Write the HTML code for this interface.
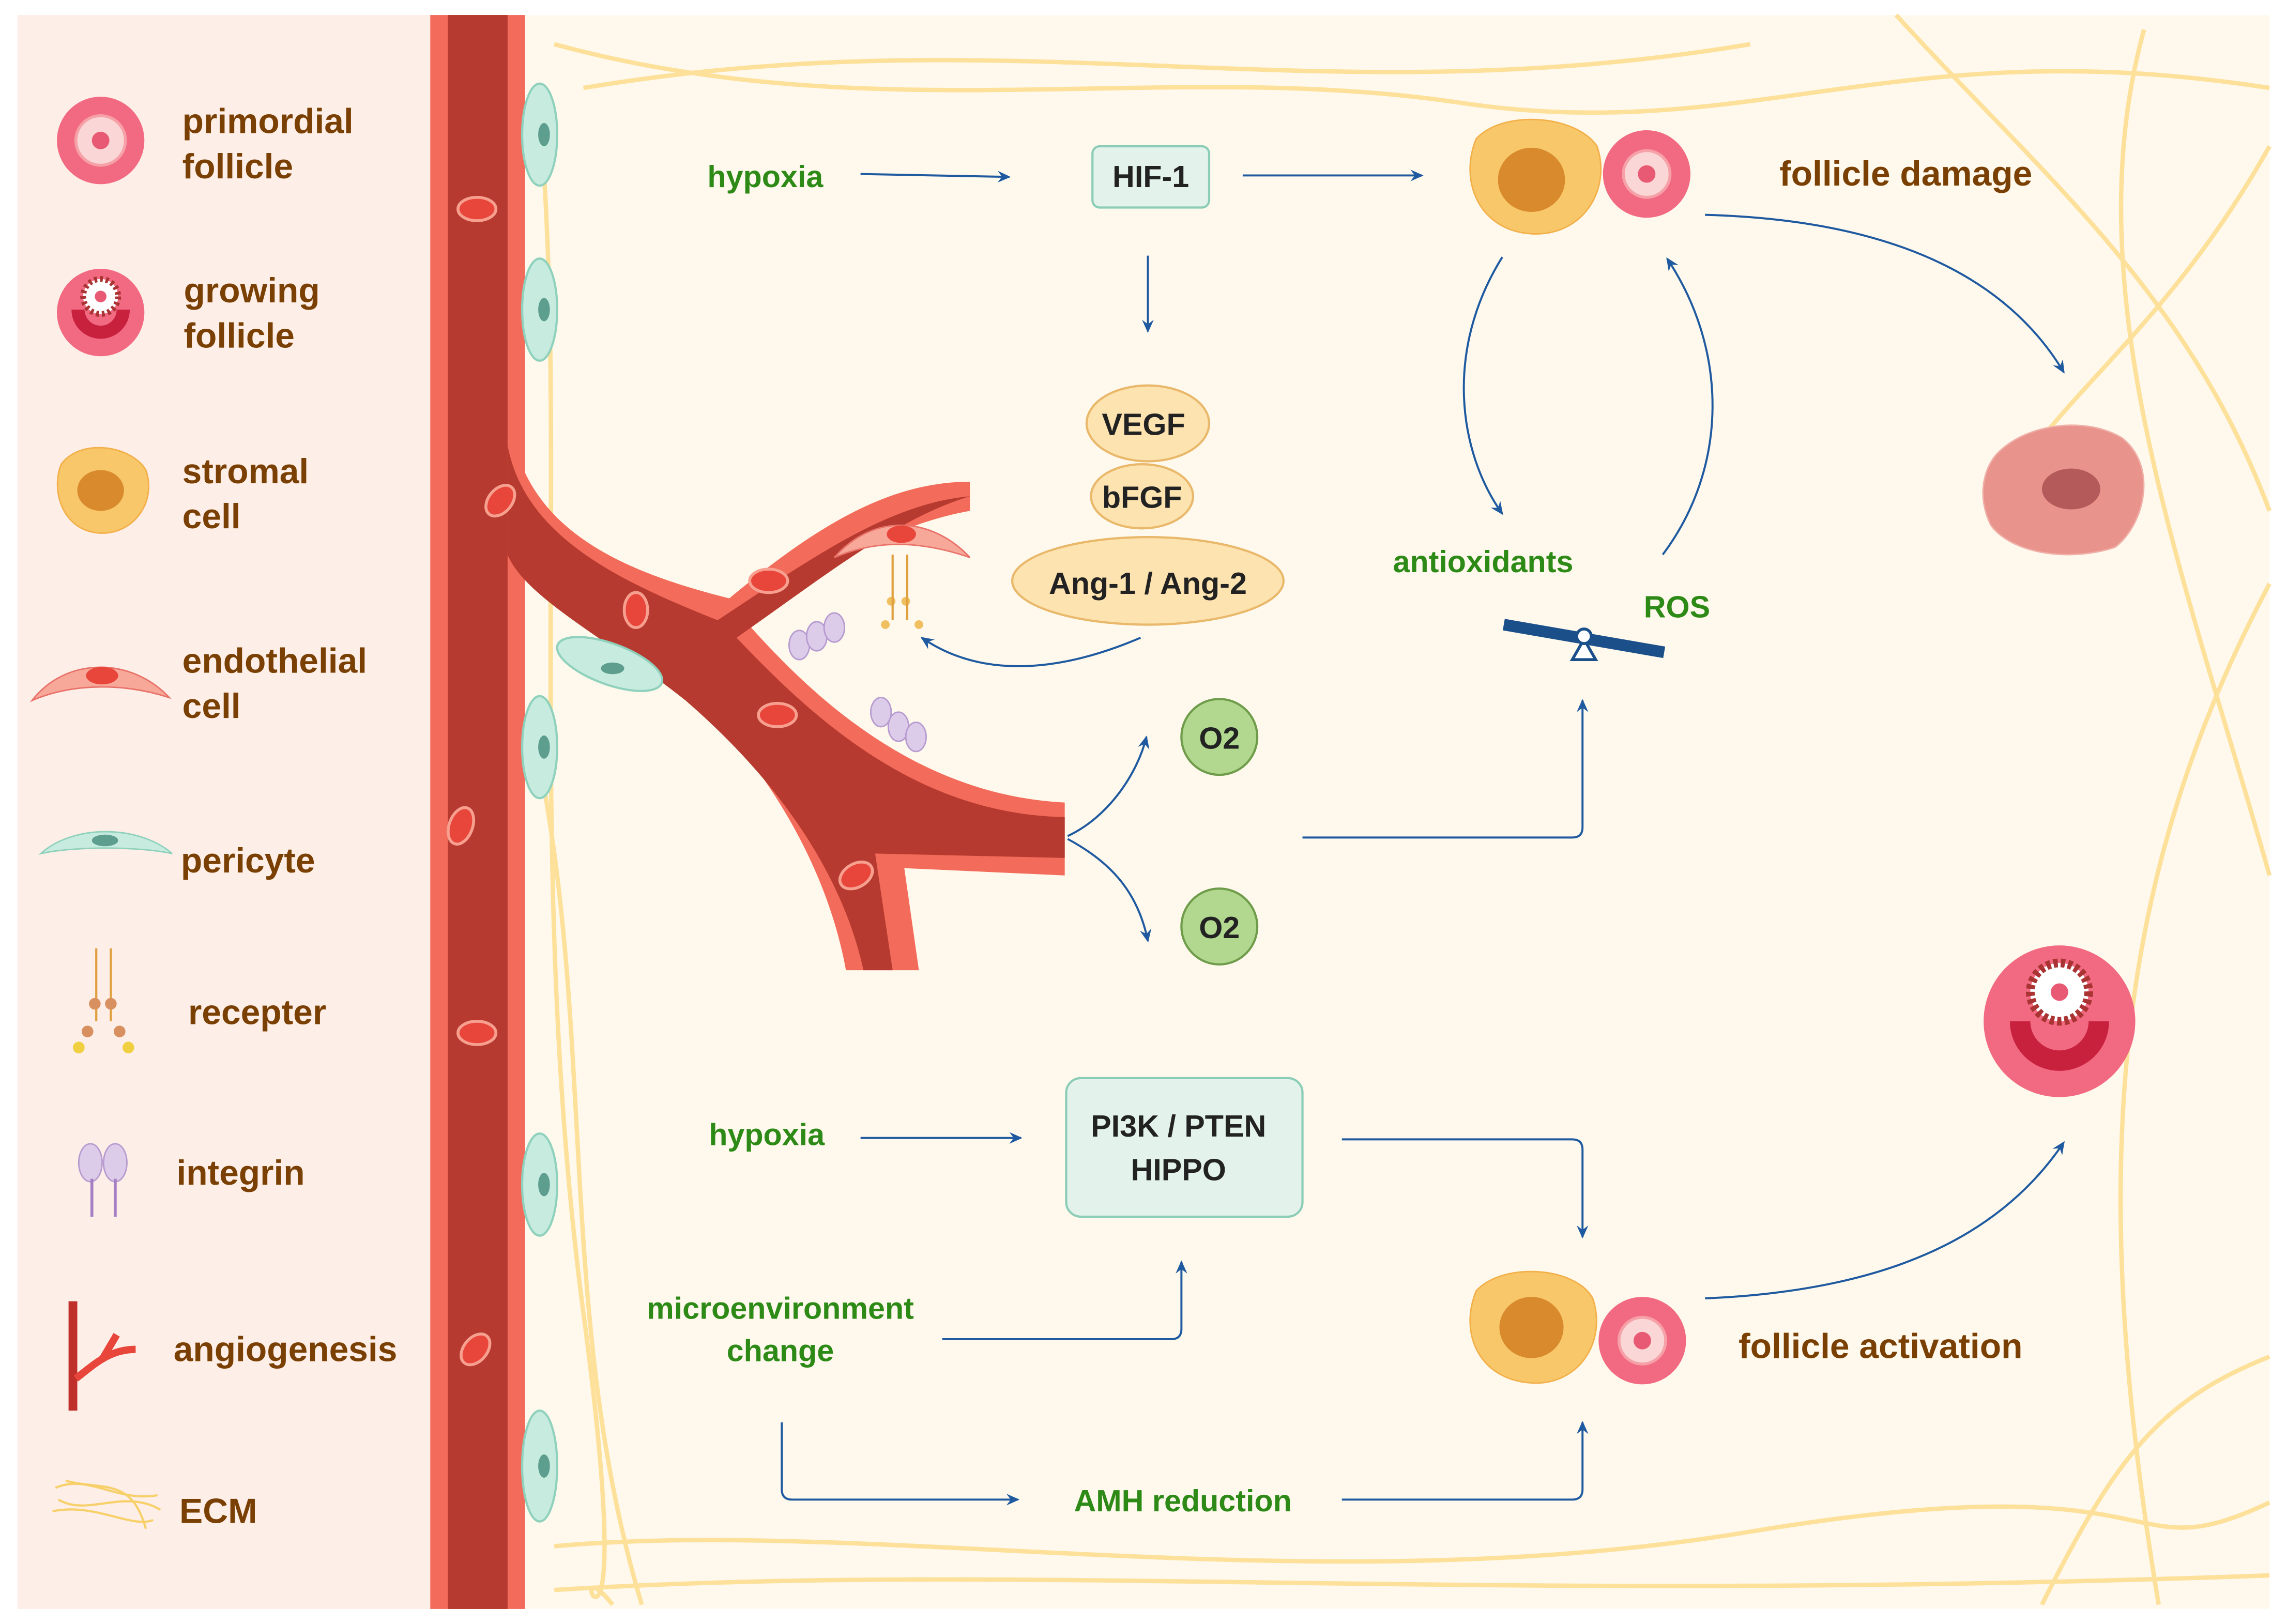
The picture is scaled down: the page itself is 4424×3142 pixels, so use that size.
<!DOCTYPE html>
<html><head><meta charset="utf-8"><style>
html,body{margin:0;padding:0;background:#fff}
svg{display:block}
text{font-family:"Liberation Sans",Arial,sans-serif;font-weight:bold}
.b{fill:#7a4003;font-size:24px}
.g{fill:#2d8a16;font-size:21px}
.k{fill:#222;font-size:21px}
.ar{fill:none;stroke:#1f5aa0;stroke-width:1.4;marker-end:url(#ah)}
</style></head><body>
<svg width="4424" height="3142" viewBox="0 0 1568 1113" xmlns="http://www.w3.org/2000/svg">
<defs>
<marker id="ah" markerWidth="10" markerHeight="10" refX="8" refY="5" orient="auto" markerUnits="userSpaceOnUse">
<path d="M0,1 L9,5 L0,9 L3,5 Z" fill="#1f5aa0"/></marker>
</defs>
<rect width="1568" height="1113" fill="#fff"/>
<rect x="12" y="10" width="284" height="1093" fill="#fdeee7"/>
<rect x="360" y="10" width="1196" height="1093" fill="#fef9ec"/>
<g fill="none" stroke="#fde09a" stroke-width="3">
<path d="M380 30 C600 90 800 40 1000 70 S1300 20 1556 60"/>
<path d="M400 60 C700 10 900 80 1200 30"/>
<path d="M1300 10 C1400 120 1500 200 1556 350"/>
<path d="M1470 20 C1420 200 1500 400 1556 600"/>
<path d="M1556 400 C1450 600 1430 800 1480 1100"/>
<path d="M380 1060 C600 1040 900 1100 1200 1050 S1450 1080 1556 1030"/>
<path d="M380 1090 C700 1070 1000 1100 1556 1080"/>
<path d="M370 80 C390 300 360 600 400 900 S380 1050 420 1100"/>
<path d="M365 500 C410 700 380 900 440 1100"/>
<path d="M1556 930 C1480 960 1450 1000 1400 1100"/>
<path d="M1556 100 C1500 200 1440 250 1400 300"/>
</g>
<rect x="295" y="10" width="65" height="1093" fill="#f36b5a"/>
<rect x="307" y="10" width="41" height="1093" fill="#b63a2f"/>
<path d="M350 290 C360 360 420 390 500 410 C560 360 610 330 665 330 L665 350 C610 360 560 390 515 430 C560 480 630 545 730 550 L730 600 L620 595 L630 665 L580 665 C570 610 540 540 470 470 C420 430 360 400 350 360 Z" fill="#f36b5a"/>
<path d="M348 305 C360 370 430 400 492 425 C560 380 610 345 665 340 C615 355 565 395 505 437 C560 495 630 558 730 560 L730 588 L600 585 L612 665 L592 665 C580 610 545 545 470 480 C420 440 360 410 348 380 Z" fill="#b63a2f"/>
<g fill="#e8453b" stroke="#f7a090" stroke-width="2">
<ellipse cx="327" cy="143" rx="13" ry="8"/><ellipse cx="343" cy="343" rx="8" ry="12" transform="rotate(40 343 343)"/>
<ellipse cx="436" cy="418" rx="8" ry="12"/><ellipse cx="527" cy="398" rx="13" ry="8"/>
<ellipse cx="533" cy="490" rx="13" ry="8"/><ellipse cx="587" cy="600" rx="12" ry="8" transform="rotate(-30 587 600)"/>
<ellipse cx="316" cy="566" rx="8" ry="13" transform="rotate(20 316 566)"/><ellipse cx="327" cy="708" rx="13" ry="8"/>
<ellipse cx="326" cy="925" rx="8" ry="12" transform="rotate(40 326 925)"/>
</g>
<g fill="#c7ecdf" stroke="#8fd1bd" stroke-width="1.5">
<ellipse cx="370" cy="92" rx="12" ry="35"/><ellipse cx="370" cy="212" rx="12" ry="35"/>
<ellipse cx="370" cy="512" rx="12" ry="35"/><ellipse cx="370" cy="812" rx="12" ry="35"/>
<ellipse cx="370" cy="1005" rx="12" ry="38"/><ellipse cx="418" cy="455" rx="38" ry="14" transform="rotate(20 418 455)"/>
</g>
<g fill="#5e9e8f"><ellipse cx="373" cy="92" rx="4" ry="8"/><ellipse cx="373" cy="212" rx="4" ry="8"/><ellipse cx="373" cy="512" rx="4" ry="8"/><ellipse cx="373" cy="812" rx="4" ry="8"/><ellipse cx="373" cy="1005" rx="4" ry="8"/><ellipse cx="420" cy="458" rx="8" ry="4"/></g>
<path d="M572 382 C600 350 640 355 665 382 C630 370 600 370 572 382Z" fill="#f7a898" stroke="#e8726a"/>
<ellipse cx="618" cy="366" rx="10" ry="6" fill="#e8453b"/>
<g fill="#dccbe9" stroke="#b79bd0"><ellipse cx="548" cy="442" rx="7" ry="10"/><ellipse cx="560" cy="436" rx="7" ry="10"/><ellipse cx="572" cy="430" rx="7" ry="10"/>
<ellipse cx="604" cy="488" rx="7" ry="10"/><ellipse cx="616" cy="498" rx="7" ry="10"/><ellipse cx="628" cy="505" rx="7" ry="10"/></g>
<g fill="#f0c060"><circle cx="611" cy="412" r="3"/><circle cx="621" cy="412" r="3"/><circle cx="607" cy="428" r="3"/><circle cx="630" cy="428" r="3"/></g>
<g stroke="#e0a040" stroke-width="1.5"><line x1="612" y1="380" x2="612" y2="425"/><line x1="622" y1="380" x2="622" y2="425"/></g>
<circle cx="69" cy="96" r="30" fill="#f26a82"/><circle cx="69" cy="96" r="17" fill="#fbd6d6" stroke="#f6a0a8" stroke-width="2"/><circle cx="69" cy="96" r="6" fill="#e85a73"/>
<circle cx="69" cy="214" r="30" fill="#f26a82"/><path d="M49 212 A20 20 0 0 0 89 212 L80 212 A11 11 0 0 1 58 212Z" fill="#c8213e"/><circle cx="69" cy="203" r="12" fill="#fff" stroke="#a33" stroke-width="4" stroke-dasharray="2 2"/><circle cx="69" cy="203" r="4" fill="#e85a73"/>
<path d="M42 318 C55 300 90 305 100 322 C108 345 90 368 66 365 C42 362 35 335 42 318Z" fill="#f8c76a" stroke="#f3b04a"/><ellipse cx="69" cy="336" rx="16" ry="14" fill="#d88a2d"/>
<path d="M22 480 C45 450 90 450 116 478 C85 468 50 468 22 480Z" fill="#f7a898" stroke="#e8726a"/><ellipse cx="70" cy="463" rx="11" ry="6" fill="#e8453b"/>
<path d="M28 585 C50 565 95 565 118 585 C95 580 50 580 28 585Z" fill="#c7ecdf" stroke="#8fd1bd"/><ellipse cx="72" cy="576" rx="9" ry="4" fill="#5e9e8f"/>
<g stroke="#e0a040" stroke-width="1.5"><line x1="66" y1="650" x2="66" y2="700"/><line x1="76" y1="650" x2="76" y2="700"/></g>
<g fill="#d89060"><circle cx="65" cy="688" r="4"/><circle cx="76" cy="688" r="4"/><circle cx="60" cy="707" r="4"/><circle cx="82" cy="707" r="4"/></g><circle cx="54" cy="718" r="4" fill="#f0d040"/><circle cx="88" cy="718" r="4" fill="#f0d040"/>
<ellipse cx="62" cy="797" rx="8" ry="13" fill="#dccbe9" stroke="#b79bd0"/><ellipse cx="79" cy="797" rx="8" ry="13" fill="#dccbe9" stroke="#b79bd0"/>
<g stroke="#a57fc4" stroke-width="2"><line x1="63" y1="808" x2="63" y2="834"/><line x1="79" y1="808" x2="79" y2="834"/></g>
<rect x="47" y="892" width="6" height="75" fill="#c0302a"/><path d="M52 945 C65 935 75 925 93 925 M70 932 L80 915" stroke="#e8453b" stroke-width="5" fill="none"/>
<g stroke="#f7d06a" fill="none" stroke-width="1.5"><path d="M38 1020 C60 1010 80 1030 108 1025"/><path d="M40 1028 C60 1040 85 1020 110 1035"/><path d="M36 1036 C65 1030 90 1048 105 1042"/><path d="M45 1015 C70 1022 90 1012 100 1048"/></g>
<text class="b" x="125" y="91">primordial</text><text class="b" x="125" y="122">follicle</text>
<text class="b" x="126" y="207">growing</text><text class="b" x="126" y="238">follicle</text>
<text class="b" x="125" y="331">stromal</text><text class="b" x="125" y="362">cell</text>
<text class="b" x="125" y="461">endothelial</text><text class="b" x="125" y="492">cell</text>
<text class="b" x="124" y="598">pericyte</text>
<text class="b" x="129" y="702">recepter</text>
<text class="b" x="121" y="812">integrin</text>
<text class="b" x="119" y="933">angiogenesis</text>
<text class="b" x="123" y="1044">ECM</text>
<text class="g" x="485" y="128">hypoxia</text>
<line class="ar" x1="590" y1="119" x2="692" y2="121"/>
<rect x="749" y="100" width="80" height="42" rx="5" fill="#e3f3ec" stroke="#8ccdb7" stroke-width="1.5"/>
<text class="k" x="789" y="128" text-anchor="middle" font-size="20">HIF-1</text>
<line class="ar" x1="852" y1="120" x2="975" y2="120"/>
<line class="ar" x1="787" y1="175" x2="787" y2="227"/>
<ellipse cx="787" cy="290" rx="42" ry="26" fill="#fde3b0" stroke="#e9b86a" stroke-width="1.5"/>
<ellipse cx="783" cy="340" rx="35" ry="22" fill="#fde3b0" stroke="#e9b86a" stroke-width="1.5"/>
<ellipse cx="787" cy="398" rx="93" ry="30" fill="#fde3b0" stroke="#e9b86a" stroke-width="1.5"/>
<text class="k" x="784" y="298" text-anchor="middle" font-size="23">VEGF</text>
<text class="k" x="783" y="348" text-anchor="middle" font-size="23">bFGF</text>
<text class="k" x="787" y="407" text-anchor="middle" font-size="22">Ang-1 / Ang-2</text>
<path class="ar" d="M782 437 C740 455 680 470 632 437"/>
<path d="M1012 95 C1030 75 1080 78 1095 100 C1105 130 1085 162 1050 160 C1015 158 1000 125 1012 95Z" fill="#f8c76a" stroke="#f3b04a"/><ellipse cx="1050" cy="123" rx="23" ry="22" fill="#d88a2d"/>
<circle cx="1129" cy="119" r="30" fill="#f26a82"/><circle cx="1129" cy="119" r="16" fill="#fbd6d6" stroke="#f6a0a8" stroke-width="2"/><circle cx="1129" cy="119" r="6" fill="#e85a73"/>
<text class="b" x="1220" y="127">follicle damage</text>
<path class="ar" d="M1169 147 C1280 150 1370 180 1415 255"/>
<path d="M1370 310 C1390 290 1430 285 1455 300 C1480 320 1470 360 1450 375 C1420 385 1380 380 1365 360 C1355 340 1360 320 1370 310Z" fill="#e8938c" stroke="#f0b0a8"/><ellipse cx="1420" cy="335" rx="20" ry="14" fill="#b55a5a"/>
<path class="ar" d="M1030 176 C990 240 1000 310 1030 352"/>
<path class="ar" d="M1140 380 C1185 320 1185 240 1143 177"/>
<text class="g" x="955" y="392">antioxidants</text>
<text class="g" x="1127" y="423">ROS</text>
<line x1="1031" y1="428" x2="1141" y2="447" stroke="#1b4f8a" stroke-width="8"/>
<path d="M1078 452 L1086 438 L1094 452Z" fill="#fff" stroke="#1b4f8a" stroke-width="2"/><circle cx="1086" cy="436" r="5" fill="#fff" stroke="#1b4f8a" stroke-width="2"/>
<path class="ar" d="M893 574 L1078 574 Q1085 574 1085 567 L1085 480"/>
<path class="ar" d="M732 573 C760 560 780 530 786 505"/>
<path class="ar" d="M732 575 C760 590 780 610 787 645"/>
<circle cx="836" cy="505" r="26" fill="#b2d890" stroke="#6f9c4a" stroke-width="1.5"/><text class="k" x="836" y="513" text-anchor="middle">O2</text>
<circle cx="836" cy="635" r="26" fill="#b2d890" stroke="#6f9c4a" stroke-width="1.5"/><text class="k" x="836" y="643" text-anchor="middle">O2</text>
<text class="g" x="486" y="785">hypoxia</text>
<line class="ar" x1="590" y1="780" x2="700" y2="780"/>
<rect x="731" y="739" width="162" height="95" rx="10" fill="#e3f3ec" stroke="#8ccdb7" stroke-width="1.5"/>
<text class="k" x="808" y="779" text-anchor="middle" font-size="20">PI3K / PTEN</text>
<text class="k" x="808" y="809" text-anchor="middle" font-size="20">HIPPO</text>
<path class="ar" d="M920 781 L1078 781 Q1085 781 1085 788 L1085 848"/>
<text class="g" x="535" y="904" text-anchor="middle">microenvironment</text>
<text class="g" x="535" y="933" text-anchor="middle">change</text>
<path class="ar" d="M646 918 L803 918 Q810 918 810 911 L810 865"/>
<path class="ar" d="M536 975 L536 1021 Q536 1028 543 1028 L698 1028"/>
<text class="g" x="811" y="1036" text-anchor="middle">AMH reduction</text>
<path class="ar" d="M920 1028 L1078 1028 Q1085 1028 1085 1021 L1085 975"/>
<path d="M1012 885 C1030 865 1080 868 1092 890 C1102 920 1082 950 1050 948 C1015 946 1000 915 1012 885Z" fill="#f8c76a" stroke="#f3b04a"/><ellipse cx="1050" cy="910" rx="22" ry="21" fill="#d88a2d"/>
<circle cx="1126" cy="919" r="30" fill="#f26a82"/><circle cx="1126" cy="919" r="16" fill="#fbd6d6" stroke="#f6a0a8" stroke-width="2"/><circle cx="1126" cy="919" r="6" fill="#e85a73"/>
<text class="b" x="1192" y="931">follicle activation</text>
<path class="ar" d="M1169 890 C1290 885 1370 850 1415 783"/>
<circle cx="1412" cy="700" r="52" fill="#f26a82"/><path d="M1378 700 A34 34 0 0 0 1446 700 L1432 700 A20 20 0 0 1 1392 700Z" fill="#c8213e"/>
<circle cx="1412" cy="680" r="20" fill="#fff" stroke="#a33" stroke-width="6" stroke-dasharray="3 2"/><circle cx="1412" cy="680" r="6" fill="#e85a73"/>
</svg>
</body></html>
